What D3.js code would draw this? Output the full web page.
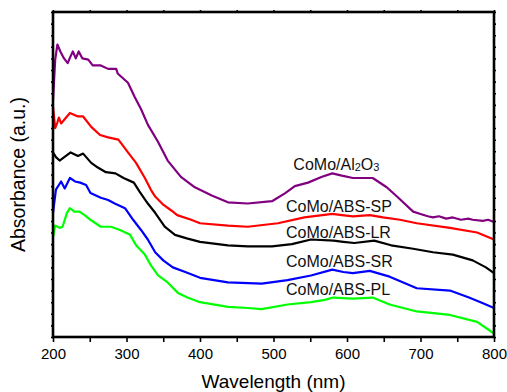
<!DOCTYPE html>
<html>
<head>
<meta charset="utf-8">
<script src="https://cdn.jsdelivr.net/npm/d3@7"></script>
<style>
  html, body { margin: 0; padding: 0; background: #fff; }
  svg { display: block; font-family: Arial, "Liberation Sans", sans-serif; }
</style>
</head>
<body>
<svg id="chart" width="507" height="392"></svg>
<script>
// Data (wavelength nm, absorbance a.u.)
const alumina = [
  [200, 2.04], [203, 2.39], [206, 2.52], [210, 2.46], [215, 2.40], [220, 2.36], [224, 2.42],
  [227, 2.46], [231, 2.40], [235, 2.46], [240, 2.40], [248, 2.39], [254, 2.34], [265, 2.34],
  [275, 2.31], [286, 2.31], [288, 2.27], [302, 2.19], [311, 2.07], [320, 1.96], [329, 1.83],
  [343, 1.68], [356, 1.52], [374, 1.38], [393, 1.29], [416, 1.22], [438, 1.16], [465, 1.15],
  [498, 1.17], [516, 1.24], [529, 1.30], [547, 1.33], [566, 1.38], [580, 1.41], [593, 1.39],
  [608, 1.37], [635, 1.37], [654, 1.29], [668, 1.21], [690, 1.08], [700, 1.06], [710, 1.04],
  [717, 1.03], [725, 1.04], [735, 1.02], [744, 1.03], [755, 1.01], [765, 1.02], [771, 1.01],
  [785, 1.00], [792, 1.01], [800, 0.99]
];
const absSP = [
  [200, 1.98], [203, 1.80], [206, 1.85], [208, 1.89], [211, 1.84], [223, 1.93], [234, 1.90],
  [241, 1.90], [252, 1.81], [264, 1.74], [275, 1.72], [289, 1.70], [302, 1.59], [313, 1.50],
  [325, 1.37], [333, 1.27], [339, 1.21], [350, 1.14], [361, 1.09], [369, 1.05], [388, 1.01],
  [400, 0.98], [438, 0.96], [465, 0.95], [506, 0.98], [542, 1.03], [580, 1.06], [593, 1.05],
  [608, 1.04], [631, 1.05], [649, 1.03], [672, 1.01], [695, 0.98], [740, 0.94], [777, 0.90],
  [800, 0.84]
];
const absLR = [
  [200, 1.59], [204, 1.55], [209, 1.52], [224, 1.59], [234, 1.56], [241, 1.58], [252, 1.50],
  [261, 1.46], [272, 1.42], [285, 1.41], [296, 1.37], [310, 1.33], [318, 1.25], [329, 1.15],
  [339, 1.07], [352, 0.95], [366, 0.88], [382, 0.85], [400, 0.82], [438, 0.79], [465, 0.78],
  [498, 0.78], [525, 0.80], [551, 0.84], [582, 0.83], [595, 0.82], [610, 0.81], [637, 0.83],
  [660, 0.79], [690, 0.76], [717, 0.73], [744, 0.71], [771, 0.66], [789, 0.60], [800, 0.55]
];
const absSR = [
  [200, 1.07], [204, 1.27], [211, 1.34], [216, 1.28], [223, 1.37], [230, 1.34], [237, 1.33],
  [245, 1.31], [251, 1.24], [265, 1.20], [275, 1.18], [284, 1.15], [298, 1.11], [309, 1.01],
  [320, 0.92], [329, 0.84], [339, 0.73], [350, 0.66], [363, 0.60], [380, 0.56], [400, 0.51],
  [438, 0.47], [484, 0.46], [519, 0.49], [551, 0.53], [580, 0.58], [595, 0.56], [608, 0.55],
  [631, 0.57], [658, 0.52], [695, 0.42], [740, 0.40], [766, 0.34], [785, 0.29], [800, 0.25]
];
const absPL = [
  [200, 0.86], [203, 0.96], [209, 0.94], [213, 0.95], [219, 1.07], [223, 1.11], [229, 1.08],
  [236, 1.08], [243, 1.05], [251, 1.01], [265, 0.95], [279, 0.95], [292, 0.92], [305, 0.88],
  [313, 0.79], [325, 0.71], [333, 0.62], [343, 0.53], [356, 0.47], [370, 0.38], [383, 0.34],
  [400, 0.30], [438, 0.26], [465, 0.25], [484, 0.24], [519, 0.28], [551, 0.30], [570, 0.32],
  [581, 0.34], [608, 0.33], [635, 0.34], [658, 0.28], [695, 0.22], [740, 0.19], [777, 0.13],
  [800, 0.03]
];

const seriesNames = ['CoMo/Al2O3', 'CoMo/ABS-SP', 'CoMo/ABS-LR', 'CoMo/ABS-SR', 'CoMo/ABS-PL'];
const seriesData = [alumina, absSP, absLR, absSR, absPL];
const seriesColors = ['#800080', '#ff0000', '#000000', '#0000ff', '#00ff00'];
// label anchor: [wavelength, absorbance] of the text baseline start
const labelPos = [[527, 1.44], [517, 1.08], [517, 0.85], [517, 0.60], [517, 0.36]];

const xTicks = d3.range(200, 801, 50);
const yTicks = d3.range(0, 2.801, 0.1);

//Setup
const width = 507, height = 392;
const margins = { top: 12, right: 13, bottom: 55, left: 53 };
const svg = d3.select('#chart');

const x = d3.scaleLinear([200, 800], [margins.left, width - margins.right]);
const y = d3.scaleLinear([0, 2.8], [height - margins.bottom, margins.top]);

const translate = (tx, ty) => `translate(${tx}, ${ty})`;

//Axes
const bottomAxis = d3.axisBottom(x)
  .tickValues(xTicks)
  .tickSize(5)
  .tickPadding(6)
  .tickFormat(d => d % 100 === 0 ? d : '');
svg.append('g')
  .attr('class', 'x-axis')
  .attr('transform', translate(0, y(0)))
  .call(bottomAxis);

svg.append('g')
  .attr('transform', translate(0, y(2.8)))
  .call(d3.axisTop(x).tickValues(xTicks).tickSize(2).tickFormat(''));

svg.append('g')
  .attr('transform', translate(x(200), 0))
  .call(d3.axisLeft(y).tickValues(yTicks).tickSize(2).tickFormat(''));

svg.append('g')
  .attr('transform', translate(x(800), 0))
  .call(d3.axisRight(y).tickValues(yTicks).tickSize(2).tickFormat(''));

svg.selectAll('.domain').remove();
svg.selectAll('.tick line').attr('stroke', '#000').attr('stroke-width', 1.6);
svg.selectAll('.x-axis .tick text')
  .attr('font-size', 15)
  .attr('font-family', 'Arial, "Liberation Sans", sans-serif')
  .attr('fill', '#000');

//Lines
const line = d3.line(d => x(d[0]), d => y(d[1]));
svg.append('g')
  .selectAll('path')
  .data(seriesData)
  .join('path')
  .attr('fill', 'none')
  .attr('stroke', (d, i) => seriesColors[i])
  .attr('stroke-width', 2.2)
  .attr('stroke-linejoin', 'round')
  .attr('d', line);

//Frame
svg.append('rect')
  .attr('x', x(200))
  .attr('y', y(2.8))
  .attr('width', x(800) - x(200))
  .attr('height', y(0) - y(2.8))
  .attr('fill', 'none')
  .attr('stroke', '#000')
  .attr('stroke-width', 2.6);

//Series labels
const labels = svg.append('g').attr('font-size', 16).attr('fill', '#111');
seriesNames.forEach((name, i) => {
  const t = labels.append('text')
    .attr('x', x(labelPos[i][0]))
    .attr('y', y(labelPos[i][1]));
  if (name === 'CoMo/Al2O3') {
    t.append('tspan').text('CoMo/Al');
    t.append('tspan').attr('font-size', 11).attr('dy', 1).text('2');
    t.append('tspan').attr('dy', -1).text('O');
    t.append('tspan').attr('font-size', 11).attr('dy', 1).text('3');
  } else {
    t.text(name);
  }
});

//Axis titles
svg.append('text')
  .attr('x', (x(200) + x(800)) / 2)
  .attr('y', 388)
  .attr('text-anchor', 'middle')
  .attr('font-size', 19)
  .text('Wavelength (nm)');

svg.append('text')
  .attr('transform', translate(25, (y(0) + y(2.8)) / 2) + ' rotate(-90)')
  .attr('text-anchor', 'middle')
  .attr('font-size', 19.5)
  .text('Absorbance (a.u.)');
</script>
</body>
</html>
